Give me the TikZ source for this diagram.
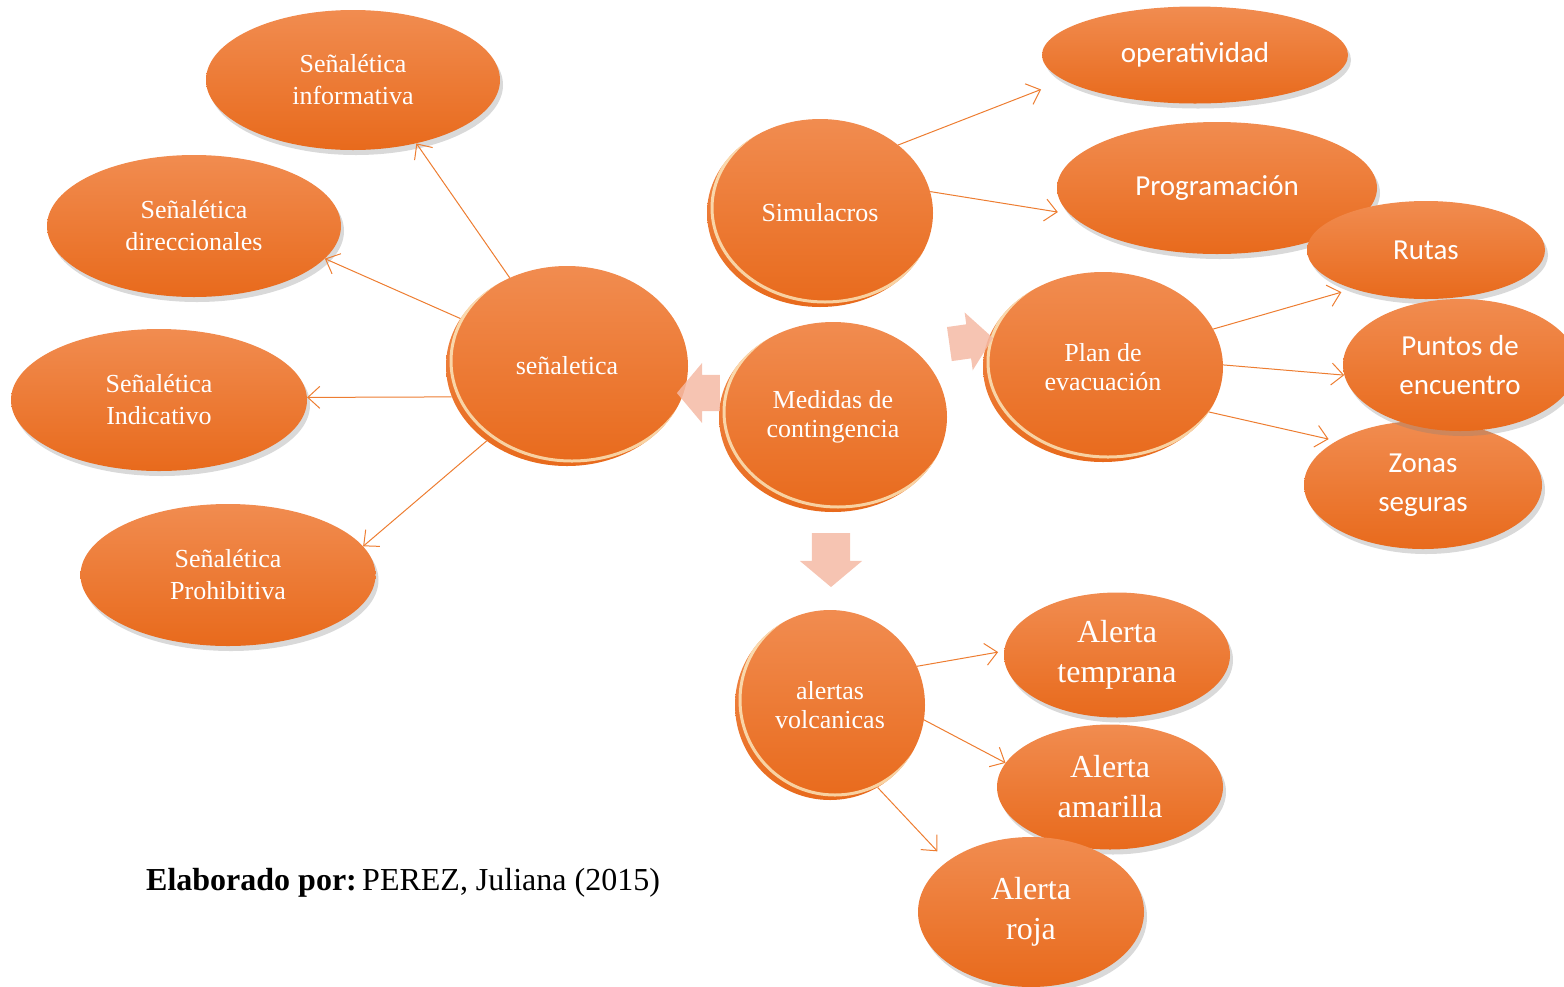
\documentclass[tikz,border=0pt]{standalone}
\usepackage{fontspec}
\setmainfont{Liberation Serif}
\newfontfamily\sansc{Carlito}
\usetikzlibrary{arrows.meta}
\usetikzlibrary{positioning}
\usetikzlibrary{shapes.geometric}
\usetikzlibrary{shapes.arrows}
\usetikzlibrary{shadows}
\definecolor{naranjaA}{RGB}{241,140,80}
\definecolor{naranjaB}{RGB}{232,106,28}
\definecolor{linea}{RGB}{237,125,49}
\definecolor{rosa}{RGB}{245,186,165}

\begin{document}
\begin{tikzpicture}[x=1pt, y=-1pt,
                    every node/.style={align=center, text=white, inner sep=0pt},
                    base/.style={ellipse, top color=naranjaA, bottom color=naranjaB,
                                 font=\fontsize{26}{32}\selectfont},
                    hoja/.style={base, drop shadow={shadow xshift=3pt, shadow yshift=-5pt, opacity=.3}},
                    hojasans/.style={hoja, font=\sansc\fontsize{29}{39}\selectfont},
                    alerta/.style={hoja, font=\fontsize{32}{40}\selectfont},
                    centro/.style 2 args={base, font=\fontsize{26}{29}\selectfont,
                        minimum width=#1, minimum height=#2,
                        path picture={\draw[white!85!yellow, opacity=.7, line width=3pt]
                            ([shift={(5pt,5pt)}]path picture bounding box.center)
                            ellipse [x radius=#1/2, y radius=#2/2];}},
                    flecha/.style={draw=linea, line width=1pt, -{Straight Barb[length=12pt, width=22pt]}},
                    bloque/.style={single arrow, fill=rosa, fill opacity=.85, draw=none,
                                   inner xsep=0pt, inner ysep=18pt,
                                   single arrow head extend=12pt, single arrow tip angle=100}]

    \useasboundingbox (0,0) rectangle (1564,986);

    \node[hoja, minimum width=294, minimum height=140] (inform) at (353,80)  {Señalética\\informativa};
    \node[hoja, minimum width=294, minimum height=142] (direcc) at (194,226) {Señalética\\direccionales};
    \node[hoja, minimum width=296, minimum height=142] (indic)  at (159,400) {Señalética\\Indicativo};
    \node[hoja, minimum width=295, minimum height=142] (prohib) at (228,575) {Señalética\\Prohibitiva};

    \node[hojasans, minimum width=306, minimum height=97]  (operat) at (1195,55)  {operatividad};
    \node[hojasans, minimum width=320, minimum height=132] (progr)  at (1217,188) {Programación};
    \node[hojasans, minimum width=238, minimum height=98]  (rutas)  at (1426,250) {Rutas};
    \node[hojasans, minimum width=238, minimum height=128] (zonas)  at (1423,485) {Zonas\\seguras};
    \node[hojasans, minimum width=234, minimum height=132] (puntos) at (1460,365) {Puntos de\\encuentro};

    \node[alerta, minimum width=226, minimum height=125] (temprana) at (1117,655) {Alerta\\temprana};
    \node[alerta, minimum width=226, minimum height=125] (amarilla) at (1110,787) {Alerta\\amarilla};
    \node[alerta, minimum width=226, minimum height=150] (roja)     at (1031,912) {Alerta\\roja};

    \node[centro={242}{200}] (senal)   at (567,366)  {señaletica};
    \node[centro={228}{190}] (medidas) at (833,417)  {Medidas de\\contingencia};
    \node[centro={226}{188}] (simul)   at (820,213)  {Simulacros};
    \node[centro={240}{190}] (plan)    at (1103,367) {Plan de\\evacuación};
    \node[centro={190}{190}] (alertas) at (830,705)  {alertas\\volcanicas};

    \node[bloque, minimum height=43, rotate=180] (haciaL) at (706,393) {};
    \node[bloque, minimum height=44, rotate=8, inner ysep=17pt] (haciaR) at (964,342) {};
    \node[bloque, minimum height=54, rotate=-90, inner ysep=19pt] (haciaD) at (831,552) {};

    \draw[flecha] (senal.123) -- (inform.-45);
    \draw[flecha] (senal.156) -- (direcc.-14);
    \draw[flecha] (senal.195) -- (indic.1);
    \draw[flecha] (senal.223) -- (prohib.12);

    \draw[flecha, shorten >=25pt] (simul.41) -- (operat.191);
    \draw[flecha, shorten >=12pt] (simul.11) -- (progr.190);

    \draw[flecha, shorten >=12pt] (plan.19)  -- (rutas.208);
    \draw[flecha]                 (plan.1)   -- (puntos.185);
    \draw[flecha, shorten >=8pt]  (plan.-23) -- (zonas.153);

    \draw[flecha, shorten >=6pt]  (alertas.24)  -- (temprana.178);
    \draw[flecha]                 (alertas.-9)  -- (amarilla.167);
    \draw[flecha, shorten >=14pt] (alertas.-60) -- (roja.149);

    \node[text=black, anchor=base west, font=\fontsize{32}{38}\selectfont] (firma) at (146,890)
        {\textbf{Elaborado por:}\,PEREZ, Juliana (2015)};
\end{tikzpicture}
\end{document}
